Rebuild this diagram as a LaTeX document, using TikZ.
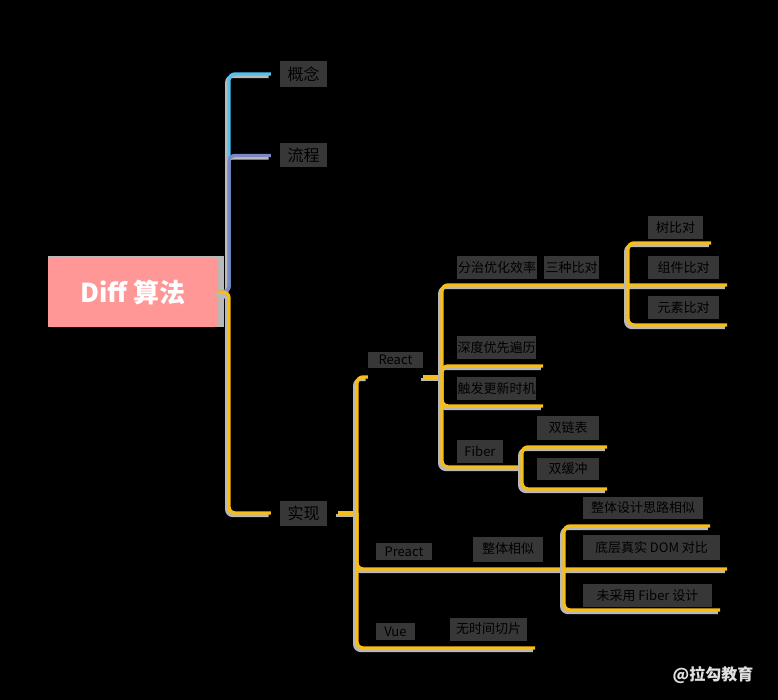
\documentclass[tikz,border=0pt]{standalone}
\usepackage{fontspec}
\setmainfont{Noto Sans CJK SC}
\usepackage{xcolor}
\definecolor{rootpink}{HTML}{FF9797}
\definecolor{linkyellow}{HTML}{F9BE16}
\definecolor{linkblue}{HTML}{55C1EE}
\definecolor{linkpurple}{HTML}{7D87C8}
\definecolor{halogray}{HTML}{B9B9B9}
\definecolor{labelgray}{HTML}{373737}
\definecolor{labeltext}{HTML}{000000}

\begin{document}
\begin{tikzpicture}[x=1pt,y=-1pt,
    link/.style={draw=#1, line width=3.4pt, rounded corners=6pt,
      preaction={draw=halogray, line width=3.4pt,
        transform canvas={xshift=-2.2pt, yshift=-2.4pt}}},
    link/.default=linkyellow,
    rootbox/.style={fill=rootpink, rounded corners=3pt, text=white,
      font=\bfseries\fontsize{26}{30}\selectfont, inner sep=0pt,
      minimum width=170pt, minimum height=69pt},
    lvlone/.style n args={2}{fill=labelgray, text=labeltext, inner sep=0pt,
      font=\fontsize{16}{18}\selectfont, minimum width=#1, minimum height=#2},
    lbl/.style n args={2}{fill=labelgray, text=labeltext, inner sep=0pt,
      font=\fontsize{13}{15}\selectfont, minimum width=#1, minimum height=#2}]

  % 背景
  \fill[black] (0,0) rectangle (778,700);
  \useasboundingbox (0,0) rectangle (778,700);

  % 根
  \fill[halogray] (48,256) rectangle (224,327);
  \node[rootbox] (root) at (133,292.5) {Diff 算法};

  % 一级
  \node[lvlone={47pt}{26pt}] (gainian) at (303.5,74) {概念};
  \node[lvlone={47pt}{24pt}] (liucheng) at (303.5,155.5) {流程};
  \node[lvlone={47pt}{25pt}] (shixian) at (303.5,513) {实现};

  % React
  \node[lbl={55pt}{16pt}] (react) at (395.5,359.5) {React};
  \node[lbl={80pt}{23pt}] (fenzhi) at (497,268) {分治优化效率};
  \node[lbl={55pt}{23pt}] (sanzhong) at (571.5,268) {三种比对};
  \node[lbl={55pt}{23pt}] (shu) at (675.5,227.5) {树比对};
  \node[lbl={71pt}{23pt}] (zujian) at (683.5,267.5) {组件比对};
  \node[lbl={71pt}{23pt}] (yuansu) at (683.5,307.5) {元素比对};
  \node[lbl={79pt}{23pt}] (bianli) at (496.5,347.5) {深度优先遍历};
  \node[lbl={79pt}{23pt}] (shiji) at (496.5,388.5) {触发更新时机};
  \node[lbl={46pt}{23pt}] (fiber) at (480,451.5) {Fiber};
  \node[lbl={62pt}{24pt}] (lianbiao) at (568,428) {双链表};
  \node[lbl={62pt}{22pt}] (huanchong) at (568,469) {双缓冲};

  % Preact
  \node[lbl={56pt}{17pt}] (preact) at (404,551.5) {Preact};
  \node[lbl={70pt}{25pt}] (xiangsi) at (508,549) {整体相似};
  \node[lbl={120pt}{22pt}] (silu) at (643,508) {整体设计思路相似};
  \node[lbl={137pt}{25pt}] (zhenshi) at (651.5,547.5) {底层真实 DOM 对比};
  \node[lbl={129pt}{23pt}] (weicaiyong) at (647.5,595.5) {未采用 Fiber 设计};

  % Vue
  \node[lbl={39pt}{17pt}] (vue) at (395.5,631.5) {Vue};
  \node[lbl={77pt}{23pt}] (qiepian) at (488.5,629) {无时间切片};

  % 分叉点
  \coordinate (jRoot) at (229,292);
  \coordinate (jA) at (357,513);
  \coordinate (jR) at (442,377);
  \coordinate (jT) at (628,285);
  \coordinate (jF) at (522,467);
  \coordinate (jP) at (564,569);

  % 线端
  \coordinate (eT1) at (711,243);
  \coordinate (eT2) at (727,285);
  \coordinate (eT3) at (727,325);
  \coordinate (eR2) at (543,366);
  \coordinate (eR3) at (543,406);
  \coordinate (eF1) at (607,447);
  \coordinate (eF2) at (607,489);
  \coordinate (eP1) at (710,526);
  \coordinate (eP2) at (727,569);
  \coordinate (eP3) at (720,610);
  \coordinate (eV) at (535,648);

  % 一级连线
  \draw[link=linkblue] (root.east |- jRoot) -- (jRoot) -- (jRoot |- gainian) -- ([xshift=-9pt]gainian.west);
  \draw[link=linkpurple] (root.east |- jRoot) -- (jRoot) -- (jRoot |- liucheng) -- ([xshift=-9pt]liucheng.west);
  \draw[link] (root.east |- jRoot) -- (jRoot) -- (jRoot |- shixian) -- ([xshift=-9pt]shixian.west);
  \draw[link] ([xshift=11pt]shixian.east) -- (jA);

  % React 连线
  \draw[link] (jA) -- (jA |- jR) -- (react.west |- jR);
  \draw[link] (react.east |- jR) -- (jR);
  \draw[link] (jR) -- (jR |- jT) -- (jT) -- (eT2);
  \draw[link] (jT) -- (jT |- eT1) -- (eT1);
  \draw[link] (jT) -- (jT |- eT3) -- (eT3);
  \draw[link] (jR) -- (jR |- eR2) -- (eR2);
  \draw[link] (jR) -- (jR |- eR3) -- (eR3);
  \draw[link] (jR) -- (jR |- jF) -- (jF);
  \draw[link] (jF) -- (jF |- eF1) -- (eF1);
  \draw[link] (jF) -- (jF |- eF2) -- (eF2);

  % Preact / Vue 连线
  \draw[link] (jA) -- (jA |- jP) -- (jP) -- (eP2);
  \draw[link] (jP) -- (jP |- eP1) -- (eP1);
  \draw[link] (jP) -- (jP |- eP3) -- (eP3);
  \draw[link] (jA) -- (jA |- eV) -- (eV);

  % 水印
  \node[text=black!12, font=\bfseries\fontsize{16}{18}\selectfont, inner sep=0pt] (logo) at (713,675) {@拉勾教育};
\end{tikzpicture}
\end{document}
